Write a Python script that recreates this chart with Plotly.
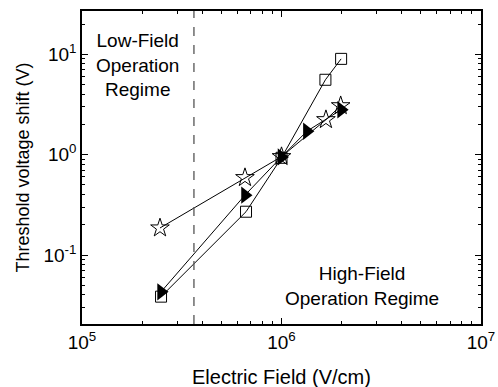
import plotly.graph_objects as go

star_x = [2.46e5, 6.56e5, 1.0e6, 1.67e6, 1.98e6]
star_y = [0.186, 0.59, 0.955, 2.23, 3.07]
sq_x = [2.49e5, 6.64e5, 1.0e6, 1.66e6, 1.99e6]
sq_y = [0.0385, 0.27, 0.93, 5.57, 9.0]
tri_x = [2.49e5, 6.56e5, 1.0e6, 1.34e6, 1.99e6]
tri_y = [0.043, 0.395, 0.95, 1.71, 2.8]
boundary_x = 3.64e5

x_tickvals = [1e5, 1e6, 1e7]
x_ticktext = ["10<sup>5</sup>", "10<sup>6</sup>", "10<sup>7</sup>"]
y_tickvals = [0.1, 1, 10]
y_ticktext = ["10<sup>-1</sup>", "10<sup>0</sup>", "10<sup>1</sup>"]

FONT = "Liberation Sans, Arial, sans-serif"

fig = go.Figure()
fig.add_trace(go.Scatter(x=sq_x, y=sq_y, mode="lines+markers",
                         line=dict(color="black", width=1),
                         marker=dict(symbol="square-open", size=11, color="black", line=dict(width=1))))
fig.add_trace(go.Scatter(x=tri_x, y=tri_y, mode="lines+markers",
                         line=dict(color="black", width=1),
                         marker=dict(symbol="triangle-right", size=15, color="black")))
fig.add_trace(go.Scatter(x=star_x, y=star_y, mode="lines+markers",
                         line=dict(color="black", width=1),
                         marker=dict(symbol="star-open", size=14, color="black", line=dict(width=1))))

fig.add_shape(type="line", x0=boundary_x, x1=boundary_x, y0=0, y1=1, xref="x", yref="paper",
              line=dict(color="#555555", width=1.3, dash="dash"))

fig.add_annotation(x=0.14, y=0.827, xref="paper", yref="paper", showarrow=False,
                   xanchor="center", yanchor="middle",
                   text="Low-Field<br>Operation<br>Regime", align="center",
                   font=dict(family=FONT, size=19, color="black"))
fig.add_annotation(x=0.703, y=0.123, xref="paper", yref="paper", showarrow=False,
                   xanchor="center", yanchor="middle",
                   text="High-Field<br>Operation Regime", align="center",
                   font=dict(family=FONT, size=19, color="black"))

# axis titles placed as annotations (pixel positions relative to plot area)
fig.add_annotation(x=0.5, y=-53, xref="paper", yref="paper", yshift=0, showarrow=False,
                   xanchor="center", yanchor="middle",
                   text="Electric Field (V/cm)", font=dict(family=FONT, size=20, color="black"))
fig.add_annotation(x=0, y=0.5, xref="paper", yref="paper", xshift=-60, showarrow=False,
                   xanchor="center", yanchor="middle", textangle=-90,
                   text="Threshold voltage shift (V)", font=dict(family=FONT, size=18, color="black"))

axis_common = dict(type="log", showgrid=False, zeroline=False, showline=True, linecolor="black",
                   linewidth=1.5, mirror="allticks", ticks="inside", ticklen=6, tickcolor="black",
                   tickmode="array", ticklabeloverflow="allow", automargin=False,
                   minor=dict(ticks="inside", ticklen=3, tickcolor="black", showgrid=False, dtick="D1"),
                   tickfont=dict(family=FONT, size=19, color="black"))

fig.update_xaxes(**axis_common, range=[5, 7], tickvals=x_tickvals, ticktext=x_ticktext)
fig.update_yaxes(**axis_common, range=[-1.687, 1.431], tickvals=y_tickvals, ticktext=y_ticktext)

fig.update_layout(width=498, height=387, margin=dict(l=82, r=17, t=11, b=63),
                  plot_bgcolor="white", paper_bgcolor="white", showlegend=False,
                  font=dict(family=FONT, color="black"))

# fix x title position: use yshift in pixels
fig.layout.annotations[2].update(y=0, yshift=-53)

fig.write_html("out.html")
